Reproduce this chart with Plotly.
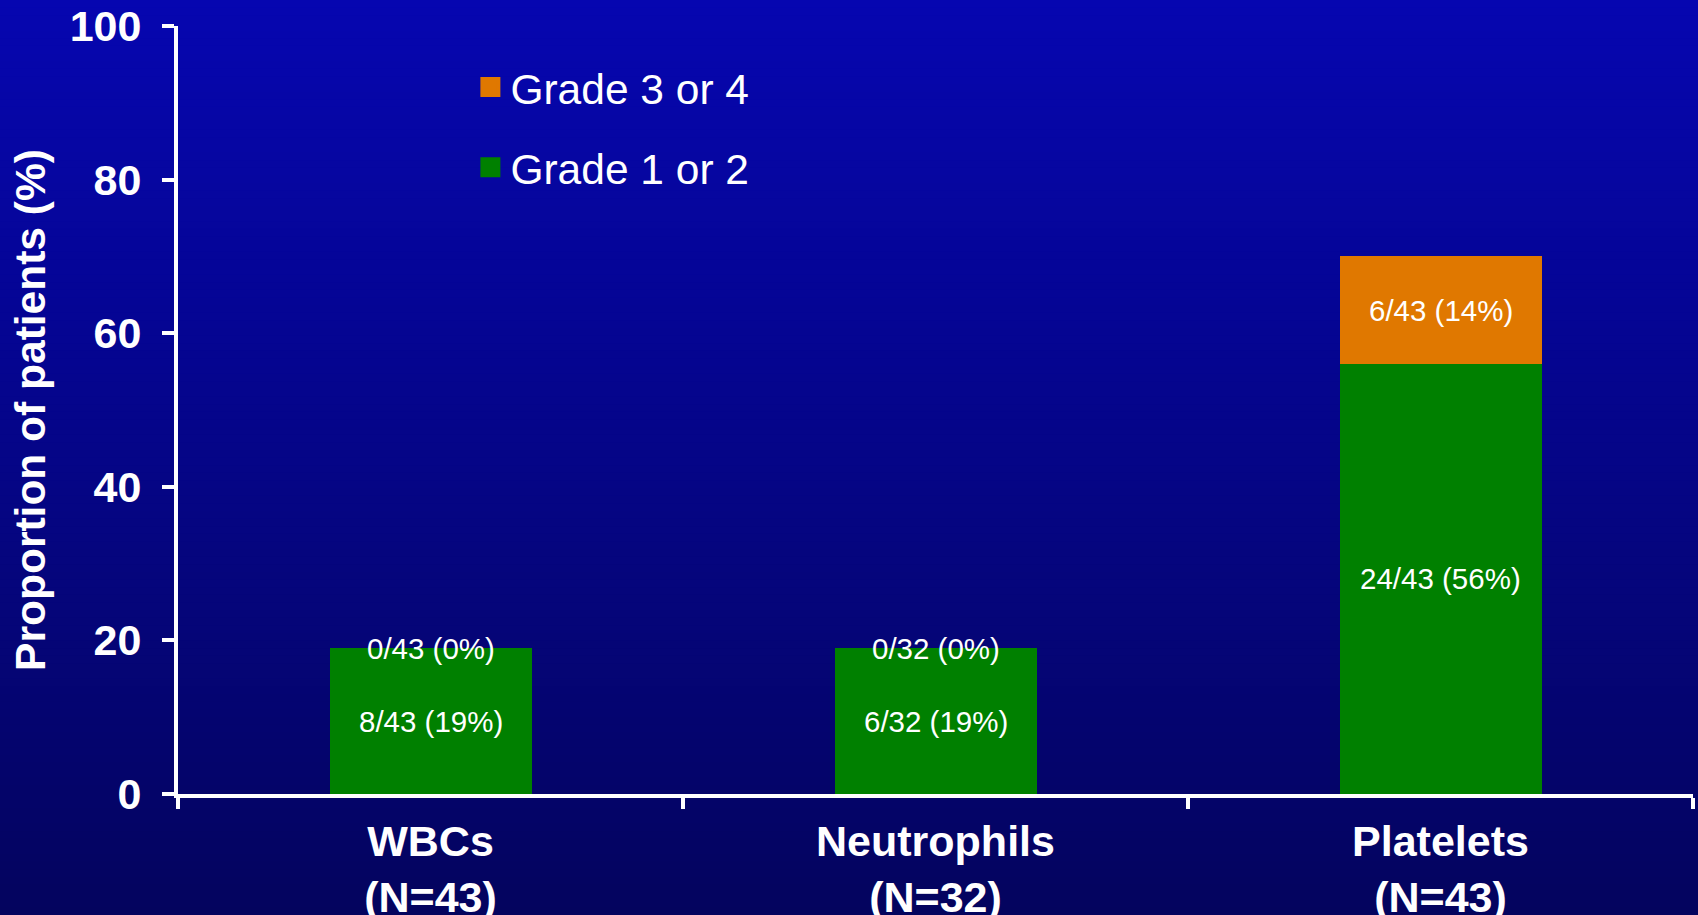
import plotly.graph_objects as go

# ---------------- data ----------------
categories = ["WBCs<br>(N=43)", "Neutrophils<br>(N=32)", "Platelets<br>(N=43)"]
pct_grade12 = [19, 19, 56]
pct_grade34 = [0, 0, 14]
labels_grade12 = ["8/43 (19%)", "6/32 (19%)", "24/43 (56%)"]
labels_grade34 = ["0/43 (0%)", "0/32 (0%)", "6/43 (14%)"]
y_ticks = [0, 20, 40, 60, 80, 100]

GREEN = "#008000"
ORANGE = "#E07800"
FONT = "Arial, 'Liberation Sans', sans-serif"

W, H = 1698, 915
ML, MR, MT, MB = 178, 5, 26, 121

fig = go.Figure()

fig.add_trace(go.Bar(
    x=categories, y=pct_grade12, name="Grade 1 or 2",
    marker=dict(color=GREEN, line=dict(width=0)),
    width=0.4, showlegend=False, hoverinfo="skip",
))
fig.add_trace(go.Bar(
    x=categories, y=pct_grade34, name="Grade 3 or 4",
    marker=dict(color=ORANGE, line=dict(width=0)),
    width=0.4, showlegend=False, hoverinfo="skip",
))

# legend entries (square swatches)
for nm, col, grp in [("Grade 3 or 4", ORANGE, "g34"), ("Grade 1 or 2", GREEN, "g12")]:
    fig.add_trace(go.Scatter(
        x=[None], y=[None], mode="markers", name=nm, legendgroup=grp,
        marker=dict(symbol="square", size=16, color=col, line=dict(width=4, color=col)),
        hoverinfo="skip",
    ))

# segment labels, centred in each segment
annotations = []
mid12 = [v / 2 for v in pct_grade12]
mid34 = [a + b / 2 for a, b in zip(pct_grade12, pct_grade34)]
for xs, ys, ts in [(categories, mid12, labels_grade12), (categories, mid34, labels_grade34)]:
    for xc, yc, tc in zip(xs, ys, ts):
        annotations.append(dict(
            x=xc, y=yc, xref="x", yref="y", text=tc, showarrow=False,
            xanchor="center", yanchor="middle", yshift=0,
            font=dict(family=FONT, size=29.5, color="white"),
        ))

# vertical gradient background built from thin strips
top = (6, 6, 176)
bot = (4, 4, 94)
n = 120
plot_h = H - MT - MB
plot_w = W - ML - MR
shapes = []
for i in range(n):
    p0 = H * i / n
    p1 = H * (i + 1) / n + 1
    t = (i + 0.5) / n
    c = tuple(round(top[k] + (bot[k] - top[k]) * t) for k in range(3))
    shapes.append(dict(
        type="rect", xref="paper", yref="paper", layer="below",
        x0=(0 - ML) / plot_w - 0.01, x1=(W - ML) / plot_w + 0.01,
        y0=(H - MB - p1) / plot_h, y1=(H - MB - p0) / plot_h,
        fillcolor="rgb(%d,%d,%d)" % c, line=dict(width=0),
    ))

fig.update_layout(
    width=W, height=H,
    margin=dict(l=ML, r=MR, t=MT, b=MB, pad=0, autoexpand=False),
    barmode="stack",
    paper_bgcolor="rgb(5,5,135)",
    plot_bgcolor="rgba(0,0,0,0)",
    font=dict(family=FONT, color="white"),
    shapes=shapes,
    annotations=annotations,
    showlegend=True,
    legend=dict(
        x=0.193, y=0.965, xanchor="left", yanchor="top",
        bgcolor="rgba(0,0,0,0)", borderwidth=0,
        traceorder="grouped", tracegroupgap=22,
        font=dict(family=FONT, size=42.5, color="white"),
    ),
    xaxis=dict(
        type="category", range=[-0.5, 2.5], automargin=False,
        showline=True, linecolor="white", linewidth=4,
        ticks="outside", tickson="boundaries", ticklen=11, tickwidth=4, tickcolor="white",
        tickfont=dict(family=FONT, size=43, color="white", weight="bold"),
        ticklabelstandoff=6,
        showgrid=False, zeroline=False, fixedrange=True,
    ),
    yaxis=dict(
        range=[0, 100], tickvals=y_ticks, automargin=False,
        showline=True, linecolor="white", linewidth=4,
        ticks="outside", ticklen=12, tickwidth=4, tickcolor="white",
        tickfont=dict(family=FONT, size=43, color="white", weight="bold"),
        ticklabelstandoff=12,
        title=dict(text="Proportion of patients (%)", standoff=12,
                   font=dict(family=FONT, size=42.5, color="white", weight="bold")),
        showgrid=False, zeroline=False, fixedrange=True,
    ),
)

fig.write_html(
    "out.html",
    config={"displayModeBar": False},
    post_script="document.body.style.margin='0';document.body.style.overflow='hidden';",
)
